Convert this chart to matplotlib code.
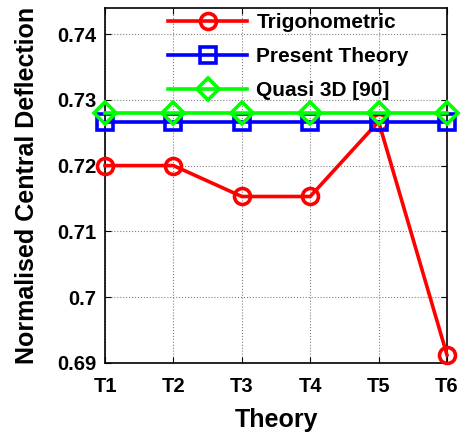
import matplotlib
matplotlib.use("Agg")
import matplotlib.pyplot as plt

plt.rcParams['font.family'] = ['Liberation Sans', 'DejaVu Sans']
plt.rcParams['font.weight'] = 'bold'

theories = ["T1", "T2", "T3", "T4", "T5", "T6"]
trig = [0.7200, 0.7200, 0.7153, 0.7153, 0.7267, 0.6912]
present = [0.7267, 0.7267, 0.7267, 0.7267, 0.7267, 0.7267]
quasi = [0.7280, 0.7280, 0.7280, 0.7280, 0.7280, 0.7280]

fig = plt.figure(figsize=(4.71, 4.34), dpi=100)
ax = fig.add_axes([0.223, 0.164, 0.726, 0.818])
x = list(range(1, len(theories) + 1))

# matlab-ish: later series drawn on top
ax.plot(x, trig, color="red", lw=2.6, marker="o", ms=11.5, mew=2.6, fillstyle="none",
        label="Trigonometric", clip_on=False, zorder=3)
ax.plot(x, present, color="blue", lw=2.6, marker="s", ms=11, mew=2.6, fillstyle="none",
        label="Present Theory", clip_on=False, zorder=3.1)
ax.plot(x, quasi, color="#00ff00", lw=2.6, marker="D", ms=11, mew=2.6, fillstyle="none",
        label="Quasi 3D [90]", clip_on=False, zorder=3.2)

ax.set_xlim(1, 6)
ax.set_ylim(0.69, 0.744)
ax.set_xticks(x)
ax.set_xticklabels(theories)
ax.set_yticks([0.69, 0.70, 0.71, 0.72, 0.73, 0.74])
ax.set_yticklabels(["0.69", "0.7", "0.71", "0.72", "0.73", "0.74"])
ax.tick_params(direction="in", top=True, right=True, labelsize=14.5, length=4)
ax.tick_params(axis="x", pad=10)
ax.tick_params(axis="y", pad=6)
ax.grid(True, color="gray", linestyle=":", linewidth=0.8)
for s in ax.spines.values():
    s.set_linewidth(1.2)
ax.set_xlabel("Theory", fontsize=18, fontweight="bold", labelpad=9)
ax.set_ylabel("Normalised Central Deflection", fontsize=18, fontweight="bold", labelpad=13)

ax.legend(loc="upper left", frameon=False, fontsize=15, handlelength=3.8,
          handletextpad=0.45, bbox_to_anchor=(0.184, 0.985), borderaxespad=0,
          borderpad=0, labelspacing=0.72)

fig.savefig("out.png", dpi=100)
